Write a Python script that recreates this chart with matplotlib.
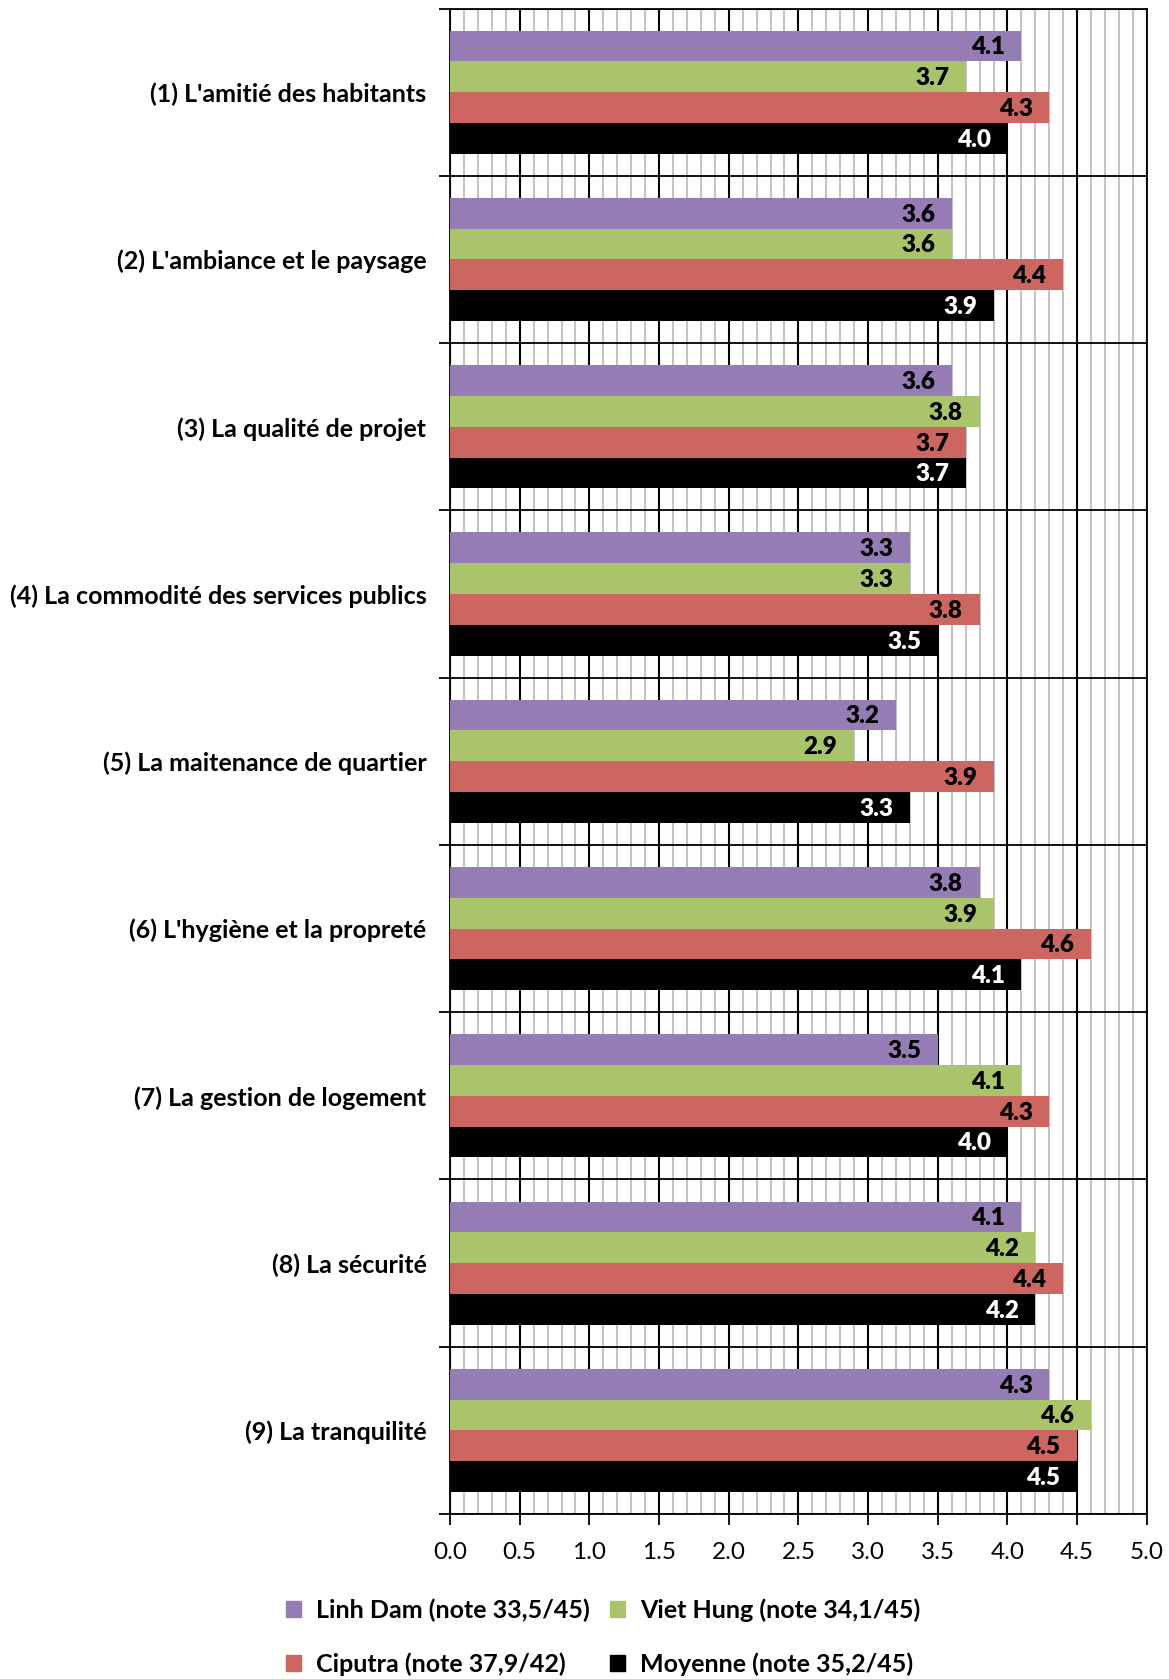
import numpy as np
import matplotlib.pyplot as plt
from matplotlib.ticker import MultipleLocator
from matplotlib.patches import Patch

categories = ["(1) L'amitié des habitants", "(2) L'ambiance et le paysage",
              "(3) La qualité de projet", "(4) La commodité des services publics",
              "(5) La maitenance de quartier", "(6) L'hygiène et la propreté",
              "(7) La gestion de logement", "(8) La sécurité", "(9) La tranquilité"]
linh_dam = [4.1, 3.6, 3.6, 3.3, 3.2, 3.8, 3.5, 4.1, 4.3]
viet_hung = [3.7, 3.6, 3.8, 3.3, 2.9, 3.9, 4.1, 4.2, 4.6]
ciputra = [4.3, 4.4, 3.7, 3.8, 3.9, 4.6, 4.3, 4.4, 4.5]
moyenne = [4.0, 3.9, 3.7, 3.5, 3.3, 4.1, 4.0, 4.2, 4.5]
series_names = ["Linh Dam (note 33,5/45)", "Viet Hung (note 34,1/45)",
                "Ciputra (note 37,9/42)", "Moyenne (note 35,2/45)"]
colors = ["#967cb4", "#aac46c", "#cd6661", "#000000"]
label_colors = ["black", "black", "black", "white"]

plt.rcParams['font.family'] = ['Lato', 'DejaVu Sans']

fig = plt.figure(figsize=(11.69, 16.79), dpi=100)
ax = fig.add_axes([0.385, 0.0983, 0.596, 0.8966])

y = np.arange(len(categories))
h = 0.184
series = [linh_dam, viet_hung, ciputra, moyenne]
for k, vals in enumerate(series):
    pos = y + (k - 1.5) * h
    ax.barh(pos, vals, height=h, color=colors[k], edgecolor='none', zorder=3)
    for p, v in zip(pos, vals):
        ax.annotate(f"{v:.1f}", (v, p), xytext=(-12, -1), textcoords='offset points',
                    ha='right', va='center', fontsize=17.5, fontweight='heavy',
                    color=label_colors[k], zorder=4)

ax.set_xlim(0, 5)
ax.set_ylim(len(categories) - 0.5, -0.5)

ax.xaxis.set_major_locator(MultipleLocator(0.5))
ax.xaxis.set_minor_locator(MultipleLocator(0.1))
ax.xaxis.set_major_formatter(lambda v, p: f"{v:.1f}")
ax.set_yticks(np.arange(len(categories) + 1) - 0.5)
ax.set_yticklabels([])
ax.set_yticks(y, minor=True)
ax.set_yticklabels(categories, minor=True, fontsize=18, fontweight='bold')

ax.grid(True, which='major', axis='x', color='black', linewidth=1.5, zorder=1)
ax.grid(True, which='minor', axis='x', color='#c4c4c4', linewidth=1.5, zorder=0)
ax.grid(True, which='major', axis='y', color='black', linewidth=1.3, zorder=1)
ax.set_axisbelow(True)

ax.tick_params(axis='x', which='major', direction='out', length=8, width=1.3,
               labelsize=17.5, pad=12)
ax.tick_params(axis='x', which='minor', length=0)
ax.tick_params(axis='y', which='major', direction='out', length=8, width=1.3)
ax.tick_params(axis='y', which='minor', length=0, pad=17)
for s in ax.spines.values():
    s.set_linewidth(1.3)

handles = [Patch(color=c) for c in colors]
order = [0, 2, 1, 3]
fig.legend([handles[i] for i in order], [series_names[i] for i in order],
           loc='center', bbox_to_anchor=(0.516, 0.025), ncol=2, frameon=False,
           prop={'size': 18, 'weight': 'bold'}, handlelength=0.6, handleheight=0.6,
           handletextpad=0.6, columnspacing=0.8, labelspacing=1.2)

fig.savefig("out.png", dpi=100)
